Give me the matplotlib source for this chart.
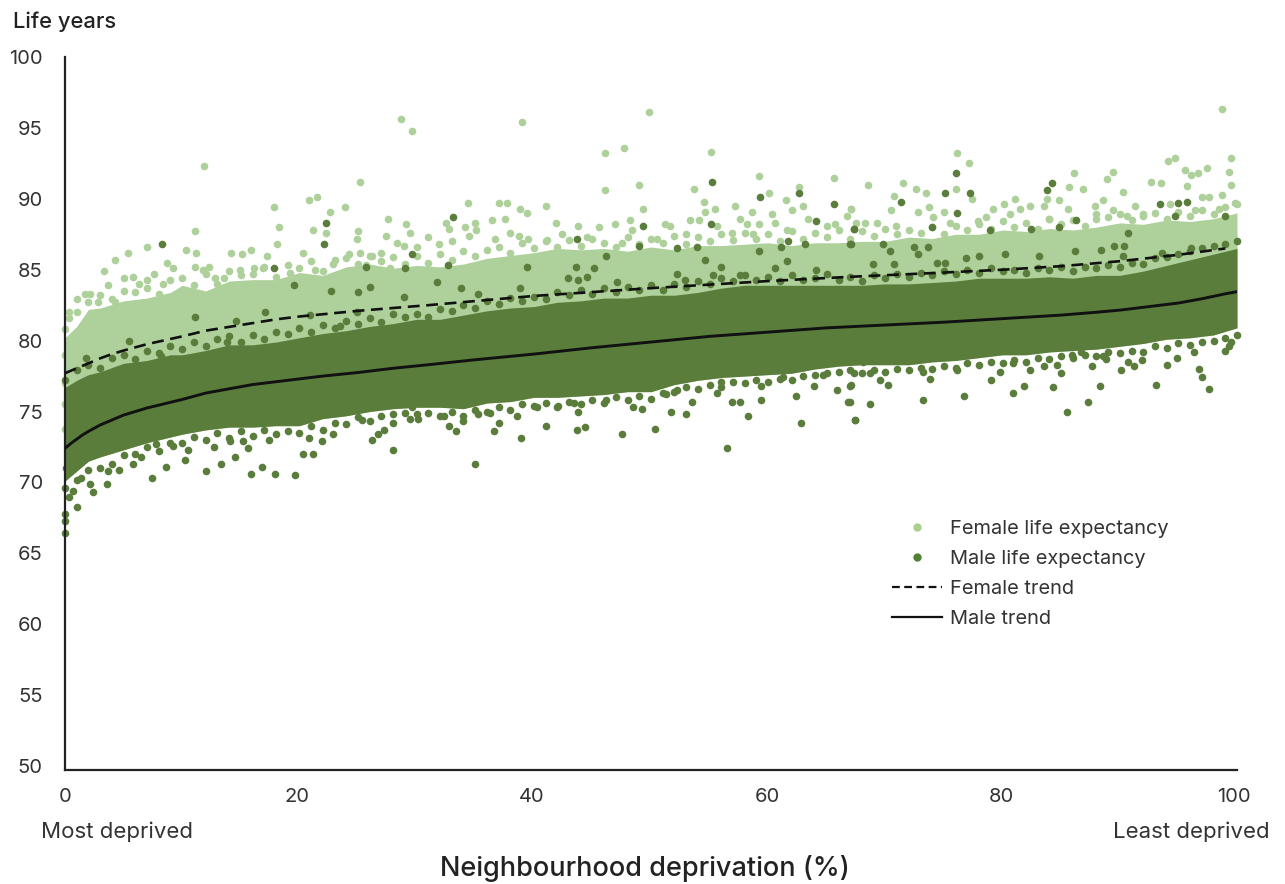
import numpy as np
import matplotlib
matplotlib.use('Agg')
import matplotlib.pyplot as plt
from matplotlib.lines import Line2D

plt.rcParams['font.family'] = ['Inter', 'DejaVu Sans']

W, H = 1285, 884

female_left = [(28.7,95.6),(29.6,94.8),(11.9,92.3),(25.2,91.2),(20.8,89.9),(21.5,90.1),(17.8,89.4),(22.6,89.1),(23.9,89.4),(27.6,88.6),
    (29.1,88.2),(18.3,88.0),(11.1,87.7),(21.2,87.8),(22.3,87.6),(25.0,87.7),(27.4,87.4),(29.4,87.6),(24.9,87.2),(7.0,86.6),
    (5.4,86.2),(4.3,85.7),(10.3,86.4),(11.2,86.2),(14.2,86.2),(15.1,86.1),(15.9,86.4),(17.2,86.0),(18.1,86.8),(20.3,86.2),
    (24.2,86.1),(25.2,86.2),(26.2,86.0),(27.0,86.2),(28.3,86.9),(28.9,86.7),(30.0,86.6),(31.0,87.3),(3.3,84.9),(8.7,85.5),
    (9.2,85.1),(11.1,85.2),(11.8,85.0),(12.3,85.2),(5.0,84.4),(5.8,84.5),(6.3,84.0),(7.0,84.3),(7.6,84.7),(8.4,84.0),
    (12.8,84.4),(13.6,84.4),(14.9,85.0),(16.1,85.1),(16.9,85.1),(19.2,84.8),(21.3,85.0),(22.9,85.4),(25.7,85.3),(27.7,85.1),
    (1.0,82.9),(1.7,83.3),(2.1,83.3),(2.8,82.7),(3.7,83.9),(4.3,82.7),(0.3,82.0),(0.3,81.6),(0.0,79.0),(0.0,77.0),(0.0,75.5),(0.0,73.8)]
female_mid = [(39.0,95.4),(49.8,96.1),(46.1,93.2),(47.7,93.6),(55.1,93.3),(46.1,90.6),(49.0,91.0),(53.7,90.7),(59.2,91.6),(65.6,91.5),
    (60.1,90.4),(62.6,90.8),(54.5,89.8),(34.4,89.7),(37.0,89.7),(37.7,89.7),(41.0,89.5),(38.8,89.3),(39.4,89.0),(49.3,89.3),
    (55.5,89.3),(57.2,89.5),(54.6,89.1),(58.6,89.1),(61.5,89.9),(63.0,89.5),(67.1,89.3),(32.5,88.3),(34.1,88.0),(35.0,88.3),
    (36.4,88.5),(37.5,88.6),(41.9,88.3),(43.8,88.1),(45.6,88.0),(46.9,88.2),(48.2,88.5),(51.2,88.2),(53.3,88.5),(54.1,88.5),
    (57.6,88.6),(58.2,88.2),(59.2,88.2),(60.3,88.9),(62.0,89.2),(63.4,88.6),(66.7,88.8),(32.8,87.9),(34.5,87.4),(35.1,87.8),
    (38.0,87.6),(36.7,87.2),(38.7,87.4),(33.0,87.0),(31.9,86.8),(39.5,87.2),(41.1,87.1),(42.4,87.5),(44.5,87.3),(47.5,86.9),
    (48.4,87.8),(50.5,87.2),(51.6,88.1),(53.0,87.5),(55.6,88.1),(56.9,87.6),(58.7,87.5),(60.6,88.3),(61.6,87.8),(65.0,88.1),
    (65.7,88.2),(67.5,88.3)]
female_right = [(98.7,96.3),(76.1,93.2),(77.1,92.5),(94.7,92.9),(94.1,92.7),(99.5,92.9),(97.4,92.2),(99.3,91.9),(95.6,92.0),(96.1,91.7),
    (96.7,91.8),(89.4,91.9),(86.1,91.8),(88.9,91.4),(68.5,91.0),(71.5,91.1),(92.7,91.2),(93.5,91.1),(95.7,90.9),(99.5,91.0),
    (85.7,90.8),(86.9,90.7),(90.3,90.5),(72.6,90.7),(76.0,90.7),(73.5,90.4),(70.7,90.2),(77.4,90.0),(97.6,90.1),(98.7,90.3),
    (97.0,90.1),(99.8,89.7),(81.1,90.0),(83.8,90.0),(84.8,89.9),(88.6,89.9),(87.9,89.5),(91.3,89.5),(67.1,89.3),(70.5,89.2),
    (72.8,89.1),(73.7,89.4),(75.0,89.1),(79.2,89.3),(80.1,89.6),(82.3,89.5),(83.5,89.5),(85.6,89.3),(89.4,89.2),(94.3,89.6),
    (96.4,89.2),(98.5,89.3),(68.3,88.3),(70.9,88.1),(75.5,88.3),(78.6,88.7),(77.9,88.4),(80.6,88.9),(81.5,89.3),(84.0,88.6),
    (88.0,88.9),(90.6,88.8),(92.0,88.9),(74.1,88.7),(69.3,88.3)]

male_left = [(8.3,86.8),(22.3,88.3),(22.1,86.8),(17.8,85.1),(19.5,83.9),(22.7,83.5),(25.7,85.2),(26.0,83.8),(29.0,85.1),(29.6,86.1),
    (25.0,83.4),(28.9,83.1),(11.1,81.7),(17.1,82.0),(14.6,81.4),(5.5,80.0),(8.2,78.9),(1.8,78.8),(13.8,79.9),(24.9,82.0),
    (20.9,81.8),(23.5,81.0),(1.05,68.3),(2.4,69.3),(3.6,69.9),(7.4,70.3),(8.6,71.1),(10.2,71.6),(12.0,70.8),(13.3,71.3),
    (14.5,71.8),(15.9,70.6),(16.8,71.1),(17.9,70.6),(19.6,70.5),(20.3,72.0),(21.2,72.0),(28.0,72.3),(26.2,73.0),(26.7,73.4),
    (27.2,73.7),(28.0,74.2),(21.9,72.9),(22.9,73.4),(25.3,74.4),(20.8,73.1),(15.6,72.4),(12.7,72.5),(10.5,72.3),(9.2,72.6),
    (14.1,72.9),(15.2,72.9),(17.4,73.0),(7.8,72.7),(5.8,71.3),(6.5,71.8),(4.6,70.9),(3.7,70.8),(2.1,69.9),(1.4,70.3),
    (0.7,69.4),(0.3,69.0),(0.0,67.8),(0.0,66.4),(0.0,67.3),(0.1,71.0),(29.4,74.5),(30.1,74.5),(30.9,75.8),(29.6,75.3)]
male_mid = [(35.0,71.3),(56.5,72.4),(38.9,73.1),(47.5,73.4),(50.3,73.8),(43.7,73.7),(44.4,73.9),(36.6,73.6),(33.4,73.6),(32.8,74.0),
    (41.0,74.0),(62.8,74.2),(67.4,74.4),(58.3,74.7),(53.0,74.8),(51.7,75.0),(48.5,75.3),(49.2,75.2),(43.8,75.0),(38.6,74.7),
    (37.0,74.2),(35.2,74.8),(36.3,74.9),(34.0,74.3),(32.3,74.7),(40.3,75.3),(42.1,75.4),(43.4,75.6),(46.2,75.8),(53.5,75.7),
    (52.2,76.5),(55.6,76.3),(56.9,75.7),(57.6,75.7),(59.4,75.8),(62.4,76.1),(63.9,76.8),(65.9,76.5),(66.8,75.7),(67.0,76.8),
    (59.4,76.8),(56.0,77.1),(51.3,76.2),(61.3,77.4),(64.7,77.6),(55.2,91.2),(59.3,90.1),(62.6,90.4),(65.6,89.6),(33.1,88.7),
    (49.3,88.1),(55.1,88.2),(64.1,88.4),(67.3,87.9),(43.7,87.2),(49.0,86.7),(52.2,86.5),(53.9,86.6),(67.0,86.8),(63.1,86.8),
    (61.7,87.0),(61.1,86.6),(59.2,86.3),(46.2,86.0),(32.7,85.3),(39.4,85.2),(43.6,85.2),(45.1,85.1),(54.6,85.7),(56.0,85.2),
    (60.6,85.1),(61.6,85.6),(64.1,85.0),(31.7,84.1),(42.9,84.4),(43.8,84.3),(44.5,84.5),(47.1,84.1),(52.2,84.7),(55.3,84.6),
    (57.6,84.6),(33.8,83.7),(38.8,83.7),(35.2,83.3),(52.9,84.3)]
male_right = [(76.0,91.8),(84.2,91.1),(83.8,90.6),(75.1,90.4),(77.2,90.4),(71.3,89.8),(93.4,89.6),(95.0,89.7),(95.7,89.8),(76.1,89.0),
    (94.7,88.8),(99.0,88.8),(86.3,88.5),(84.8,88.0),(74.0,88.0),(67.3,87.9),(78.9,87.8),(82.4,87.9),(90.7,87.6),(67.1,86.8),
    (69.8,86.8),(70.4,86.3),(72.4,86.6),(73.6,86.6),(72.8,86.1),(80.2,86.1),(83.1,86.0),(86.2,86.3),(88.4,86.4),(89.5,86.7),
    (90.4,86.7),(90.3,86.0),(96.1,86.5),(93.6,86.2),(78.0,86.0),(76.9,85.8),(68.9,85.4),(70.7,85.4),(74.4,85.5),(75.1,85.5),
    (67.4,74.4),(68.7,75.5),(73.2,75.8),(76.7,76.1),(80.9,76.3),(81.8,76.8),(79.0,77.2),(79.8,77.8),(84.3,76.7),(85.5,75.0),
    (87.3,75.7),(88.3,76.8),(93.1,76.9),(97.6,76.6),(97.0,77.4),(96.8,78.0),(90.1,77.9),(91.2,78.2),(90.7,78.5),(91.9,78.6),
    (94.0,78.3),(94.9,78.8),(96.3,79.2),(88.8,78.7),(87.6,78.2),(83.5,78.2),(82.3,77.9),(85.0,77.7),(73.8,77.3),(76.1,77.9),
    (70.2,76.9),(69.5,77.2),(68.7,77.7),(67.3,77.7),(67.1,76.9),(67.0,75.7),(85.9,79.0),(86.7,79.2),(99.0,79.3),(99.5,79.9),
    (99.3,79.6),(73.2,77.8),(68.1,78.5),(80.9,78.4),(84.6,78.3),(88.6,78.9)]

# The solid core of each cloud holds thousands of overlapping dots that can't be
# read one by one, so it is drawn as a band between its edges
band_x = [0, 1, 2, 3, 5, 7, 9, 10] + list(range(12, 101, 2))
female_top = [80.2,81,82.2,82.3,82.8,83,83.4,83.9,83.5,84.2,84.3,84.3,84.8,84.6,85.2,85.4,85.1,85.3,85.2,85.4,85.8,86,86.2,86.5,
    86.4,86.5,86.3,86.6,86.4,86.7,86.7,86.8,86.9,86.7,86.9,86.9,87,87,87.3,87.2,87.5,87.5,87.8,87.7,87.9,87.8,88,88.3,88.2,88.5,88.4,88.6,89]
male_top = [76.7,77.2,77.6,77.8,78.4,78.6,79,79,79.3,79.7,79.7,79.9,80.2,80.5,80.7,81,81.2,81.5,81.5,81.8,82.1,82.3,82.4,82.7,
    82.8,83,83,83.2,83.2,83.4,83.7,83.9,83.9,83.9,83.9,83.9,83.9,84,84,84.1,84.2,84.4,84.4,84.4,84.5,84.4,84.6,84.6,84.9,85.3,85.7,86.1,86.5]
male_low = [70.1,70.8,71.5,71.8,72.3,72.8,73.2,73.4,73.7,73.9,73.9,74,74,74.5,74.7,75,75.2,75.3,75.3,75.2,75.6,75.7,76,76,
    76.1,76.2,76.4,76.4,76.9,77.2,77.4,77.5,77.6,77.7,78,78.2,78.3,78.3,78.3,78.5,78.6,78.8,79,79,79.2,79.3,79.4,79.6,79.8,80.1,80.2,80.4,80.9]

# Rough edge of the clouds, one estimated dot per 1 % of x
edge_x = list(range(0, 101))
female_edge = [80.8,82,82.7,83.2,82.9,83.5,83.4,83.7,83.3,84.3,
    84.4,83.9,84.7,84,84.9,84.6,84.7,85.2,84.5,85.3,
    85.1,85.6,84.9,85.7,85.8,85.4,86,85.6,85.9,85.4,
    86,85.5,86.1,85.7,86.3,86,86.4,86.6,86.2,86.9,
    86.5,87,86.6,87.1,86.7,87.2,86.9,86.6,87.3,86.8,
    87.2,86.9,87.4,86.8,87.3,87,87.5,87.1,87.6,87.2,
    87.5,87,87.7,87.2,87.6,87.3,87.8,87.2,87.7,87.4,
    87.9,87.5,87.8,87.6,88,87.5,88.1,87.8,88.2,87.9,
    88.4,88,88.3,87.9,88.6,88.2,88.5,88.1,88.6,88.7,
    88.9,88.5,88.8,89,88.6,89.1,88.8,89.2,88.9,89.4,89.6]
male_edge_top = [77.2,77.9,78.3,78.1,78.8,79,78.7,79.3,79.1,79.6,
    79.4,79.9,79.6,80.1,80.3,79.9,80.4,80.1,80.6,80.5,
    80.9,80.6,81.1,80.9,81.4,81.2,81.6,81.3,81.9,81.7,
    81.9,81.7,82.2,82.1,82.5,82.3,82.8,82.6,83,82.8,
    83.1,82.9,83.4,83.2,83.6,83.3,83.7,83.4,83.8,83.6,
    83.9,83.6,84,83.8,84.2,84,84.4,84.2,84.6,84.3,
    84.5,84.2,84.6,84.3,84.4,84.7,84.3,84.5,84.2,84.6,
    84.4,84.7,84.5,84.8,84.6,84.9,84.7,85,84.8,85.1,
    84.9,85,84.8,85.1,85,85.2,84.9,85.2,85.1,85.3,
    85.2,85.5,85.4,85.8,85.9,86.1,86.3,86.5,86.7,86.8,87]
male_edge_low = [69.6,70.2,70.9,71,71.3,71.9,72,72.5,72.2,72.8,
    72.8,73.2,73,73.5,73.1,73.6,73.3,73.7,73.4,73.6,
    73.5,74,73.7,74.2,74.1,74.6,74.3,74.7,74.8,74.9,
    74.8,74.9,74.7,75,74.7,75.1,75,75.3,75.1,75.5,
    75.4,75.6,75.3,75.7,75.5,75.8,75.6,76,75.8,76.1,
    75.9,76.3,76.4,76.7,76.6,76.9,76.7,77.1,77,77.2,
    77.1,77.3,77.2,77.5,77.6,77.7,77.8,77.9,77.7,77.9,
    77.8,78,77.9,78.1,78,78.2,78.1,78.4,78.3,78.5,
    78.4,78.6,78.5,78.8,78.7,78.9,78.8,79,78.9,79.2,
    79.1,79.3,79.2,79.6,79.5,79.8,79.7,79.9,80,80.2,80.4]

# Trend lines
male_trend_x = [0, 0.5, 1, 1.5, 2, 3, 4, 5, 6, 7, 8, 9, 10, 12, 14, 16, 18, 20, 22, 25, 28, 31, 35, 40, 45, 50, 55, 60, 65, 70, 75, 80, 85, 88, 90, 92, 95, 97, 99, 100]
male_trend_y = [72.4, 72.75, 73.05, 73.35, 73.6, 74.05, 74.4, 74.75, 75.0, 75.25, 75.45, 75.65, 75.85, 76.3, 76.6, 76.9, 77.1, 77.3, 77.5, 77.75, 78.05, 78.3,
    78.65, 79.05, 79.5, 79.9, 80.3, 80.6, 80.9, 81.1, 81.3, 81.55, 81.8, 82.0, 82.15, 82.35, 82.65, 82.95, 83.3, 83.45]
female_trend_x = [0, 1, 2, 3, 4, 5, 7, 10, 12, 15, 18, 20, 25, 31, 40, 50, 60, 67, 75, 80, 85, 90, 95, 99]
female_trend_y = [77.7, 78.05, 78.4, 78.75, 79.05, 79.3, 79.75, 80.3, 80.7, 81.1, 81.5, 81.7, 82.1, 82.5, 83.15, 83.7, 84.2, 84.5, 84.8, 85.0, 85.25, 85.6, 86.05, 86.5]

y_ticks = list(range(50, 101, 5))
x_ticks = [0, 19.8, 39.8, 59.9, 79.9, 99.7]  # labels sit slightly left of their true spot in the original
x_labels = ['0', '20', '40', '60', '80', '100']

female_color = '#aed09a'
male_color = '#5a7d3b'

fig = plt.figure(figsize=(W / 100, H / 100), dpi=100)
ax = fig.add_axes([65 / W, 1 - 770 / H, (1237 - 65) / W, (770 - 57) / H])

female_pts = np.array(female_left + female_mid + female_right)
male_pts = np.array(male_left + male_mid + male_right)

ax.fill_between(band_x, male_low, female_top, color=female_color, lw=0, zorder=1)
ax.scatter(female_pts[:, 0], female_pts[:, 1], s=30, color=female_color, lw=0, zorder=1, clip_on=False)
ax.scatter(edge_x, female_edge, s=30, color=female_color, lw=0, zorder=1, clip_on=False)
ax.fill_between(band_x, male_low, male_top, color=male_color, lw=0, zorder=2)
ax.scatter(male_pts[:, 0], male_pts[:, 1], s=30, color=male_color, lw=0, zorder=2, clip_on=False)
ax.scatter(edge_x, male_edge_top, s=30, color=male_color, lw=0, zorder=2, clip_on=False)
ax.scatter(edge_x, male_edge_low, s=30, color=male_color, lw=0, zorder=2, clip_on=False)

ax.plot(female_trend_x, female_trend_y, color='#111111', lw=1.9, dashes=(4.5, 2.5), zorder=3)
ax.plot(male_trend_x, male_trend_y, color='#111111', lw=2.1, zorder=3)

ax.set_xlim(0, 100)
ax.set_ylim(49.72, 100)
ax.set_xticks(x_ticks, x_labels)
ax.set_yticks(y_ticks)
ax.tick_params(length=0, labelsize=14.5, labelcolor='#333333')
ax.tick_params(axis='x', pad=13)
ax.tick_params(axis='y', pad=16)
for s in ['top', 'right']:
    ax.spines[s].set_visible(False)
for s in ['left', 'bottom']:
    ax.spines[s].set_linewidth(1.6)
    ax.spines[s].set_color('#222222')

fig.text(13 / W, 1 - 22 / H, 'Life years', fontsize=15.8, fontweight='medium', color='#222222', va='center')
fig.text(117 / W, 1 - 832 / H, 'Most deprived', fontsize=16, color='#333333', ha='center', va='center')
fig.text(1191 / W, 1 - 832 / H, 'Least deprived', fontsize=16, color='#333333', ha='center', va='center')
fig.text(645 / W, 1 - 868 / H, 'Neighbourhood deprivation (%)', fontsize=19.5, fontweight='medium', color='#222222', ha='center', va='center')

handles = [
    Line2D([], [], ls='', marker='o', ms=6, mew=0, color='#a9d08e'),
    Line2D([], [], ls='', marker='o', ms=6, mew=0, color='#4f8236'),
    Line2D([], [], color='#111111', lw=1.6, dashes=(3.5, 2)),
    Line2D([], [], color='#111111', lw=1.6),
]
labels = ['Female life expectancy', 'Male life expectancy', 'Female trend', 'Male trend']
leg = fig.legend(handles, labels, loc='upper left', bbox_to_anchor=(892 / W, 1 - 520 / H), frameon=False,
                 fontsize=14.4, handlelength=2.5, handletextpad=0.4, labelspacing=0.6, borderpad=0, borderaxespad=0)
for t in leg.get_texts():
    t.set_color('#333333')

fig.savefig('out.png', dpi=100)
